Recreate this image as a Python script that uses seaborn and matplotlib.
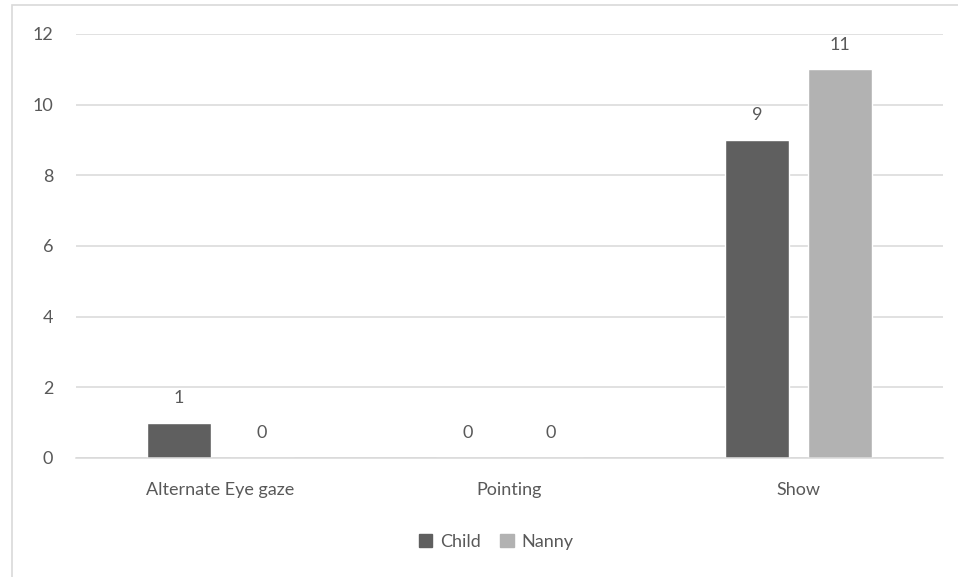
import matplotlib
matplotlib.use("Agg")
import matplotlib.pyplot as plt
import matplotlib.patches as mpatches
import pandas as pd
import seaborn as sns

# Gesture counts by category and speaker
categories = ["Alternate Eye gaze", "Pointing", "Show"]
child = [1, 0, 9]
nanny = [0, 0, 11]
series = ["Child", "Nanny"]
yticks = [0, 2, 4, 6, 8, 10, 12]

df = pd.DataFrame({
    "category": categories * 2,
    "who": ["Child"] * len(categories) + ["Nanny"] * len(categories),
    "count": child + nanny,
})

sns.set_theme(style="white")
plt.rcParams["font.family"] = ["Lato", "DejaVu Sans"]

text_color = "#595959"
grid_color = "#d9d9d9"
palette = {"Child": "#5f5f5f", "Nanny": "#b2b2b2"}
fs = 13

fig = plt.figure(figsize=(9.58, 5.77), dpi=100)
W, H = 958, 577
ax = fig.add_axes([76 / W, 1 - 458 / H, (943 - 76) / W, (458 - 34) / H])

sns.barplot(data=df, x="category", y="count", hue="who", order=categories,
            hue_order=series, palette=palette, width=0.574, gap=0.226,
            saturation=1, legend=False, ax=ax)

ax.set_xlim(-0.5, 2.5)
ax.set_ylim(0, 12)
ax.set_yticks(yticks)
ax.yaxis.grid(True, color=grid_color, linewidth=1.1)
ax.set_axisbelow(True)
for s in ["top", "right", "left"]:
    ax.spines[s].set_visible(False)
ax.spines["bottom"].set_color(grid_color)
ax.spines["bottom"].set_linewidth(1.1)
ax.tick_params(axis="both", length=0, labelsize=fs, colors=text_color)
ax.tick_params(axis="y", pad=16.5)
ax.tick_params(axis="x", pad=17)
ax.set_xlabel("")
ax.set_ylabel("")

for container in ax.containers:
    ax.bar_label(container, fmt="%g", padding=12, fontsize=fs, color=text_color)

handles = [mpatches.Patch(color=palette[s], label=s) for s in series]
fig.legend(handles=handles, loc="center", bbox_to_anchor=(496 / W, 1 - 542 / H),
           ncol=2, frameon=False, fontsize=fs, labelcolor=text_color,
           handlelength=0.75, handleheight=0.75, handletextpad=0.4,
           columnspacing=1.1)

# chart area border
fig.patches.append(mpatches.Rectangle((11.5 / W, -0.1), 1.2, 1 - 4.5 / H + 0.1,
                                      transform=fig.transFigure, fill=False,
                                      edgecolor=grid_color, linewidth=1.2))

fig.savefig("out.png", dpi=100)
